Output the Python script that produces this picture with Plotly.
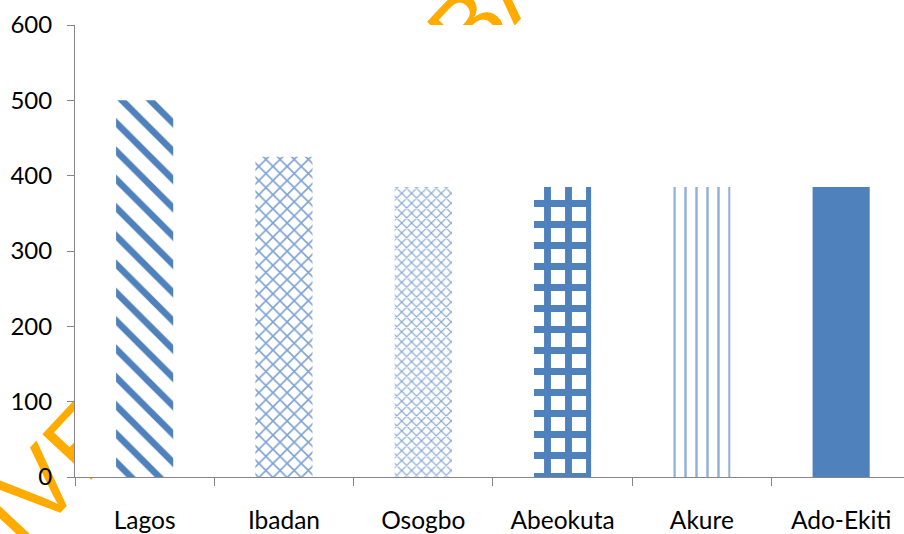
import plotly.graph_objects as go

categories = ["Lagos", "Ibadan", "Osogbo", "Abeokuta", "Akure", "Ado-Ekiti"]
values = [500, 425, 385, 385, 385, 385]
y_ticks = [0, 100, 200, 300, 400, 500, 600]

BLUE = "#4F81BD"
pattern_shapes = ["\\", "x", "x", "+", "|", ""]
pattern_sizes = [20, 10, 7, 21, 11, 8]
pattern_solidity = [0.33, 0.3, 0.3, 0.55, 0.22, 0.3]
pattern_fg = [BLUE, "#7EA2D1", "#7EA2D1", BLUE, "#8FB0DA", BLUE]

W, H = 904, 534
ML, MR, MT, MB = 75, 0, 25, 54
PW, PH = W - ML - MR, H - MT - MB


def px_to_paper(px, py):
    return (px - ML) / PW, (H - MB - py) / PH


fig = go.Figure()
fig.add_trace(go.Bar(
    x=categories,
    y=values,
    marker=dict(
        color=BLUE,
        line=dict(width=0),
        pattern=dict(
            shape=pattern_shapes,
            size=pattern_sizes,
            solidity=pattern_solidity,
            fgcolor=pattern_fg,
            bgcolor="white",
            fillmode="replace",
        ),
    ),
    width=0.41,
    hoverinfo="x+y",
))

# watermark (drawn below plot area, masked by a white plot rectangle)
wx, wy = px_to_paper(432, 52)
fig.add_shape(
    type="rect", xref="paper", yref="paper",
    x0=wx - 0.004, x1=wx + 0.004, y0=wy - 0.005, y1=wy + 0.005,
    line=dict(width=0), fillcolor="rgba(0,0,0,0)", layer="below",
    label=dict(
        text="UNIVERSITY OF IBADAN LIBRARY",
        textangle=-47,
        textposition="middle center",
        font=dict(family="Liberation Sans, Arial, sans-serif", size=97, color="#FFAB00"),
    ),
)
fig.add_shape(
    type="rect", xref="paper", yref="paper",
    x0=0, x1=1, y0=0, y1=1,
    line=dict(width=0), fillcolor="white", layer="below",
)

fig.update_layout(
    width=W, height=H,
    margin=dict(l=ML, r=MR, t=MT, b=MB, pad=0),
    paper_bgcolor="white",
    plot_bgcolor="white",
    showlegend=False,
    font=dict(family="Lato, sans-serif", size=24, color="#000000"),
    bargap=0.59,
)
fig.update_xaxes(
    type="category",
    range=[-0.5, -0.5 + PW / 139.3],
    showline=True, linecolor="#868686", linewidth=1,
    ticks="outside", ticklen=8, tickcolor="#868686", tickson="boundaries",
    showgrid=False, zeroline=False,
    ticklabelstandoff=22,
    tickfont=dict(family="Lato, sans-serif", size=24.5, color="#000000"),
)
fig.update_yaxes(
    range=[0, 600],
    tickvals=y_ticks,
    ticktext=[str(v) for v in y_ticks],
    showline=True, linecolor="#868686", linewidth=1,
    ticks="outside", ticklen=7, tickcolor="#868686",
    showgrid=False, zeroline=False,
    ticklabelstandoff=10,
    tickfont=dict(family="Lato, sans-serif", size=24, color="#000000"),
)

fig.write_html("out.html")
